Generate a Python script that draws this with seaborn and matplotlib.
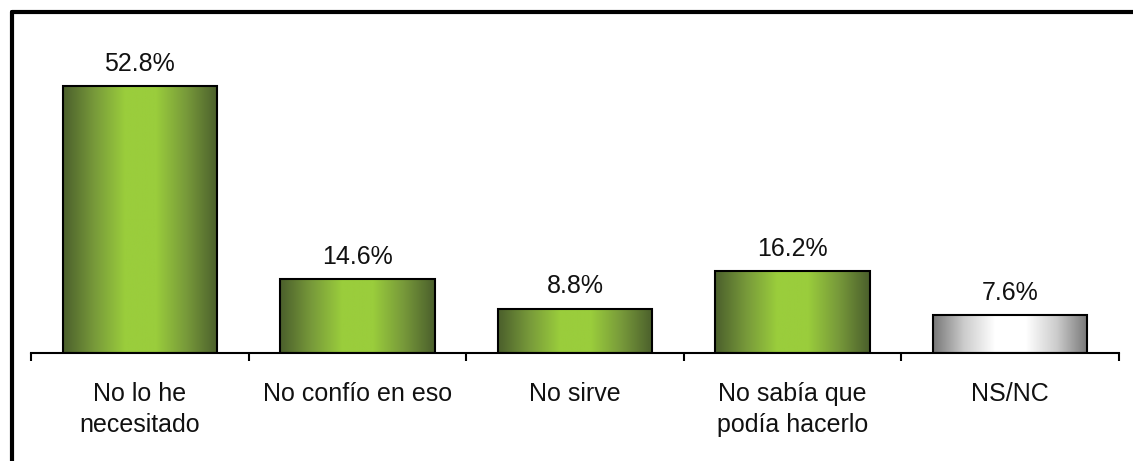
import numpy as np
import pandas as pd
import matplotlib
matplotlib.use("Agg")
import matplotlib.pyplot as plt
import seaborn as sns
from matplotlib.colors import LinearSegmentedColormap
from matplotlib.lines import Line2D

categories = ["No lo he\nnecesitado", "No confío en eso", "No sirve",
              "No sabía que\npodía hacerlo", "NS/NC"]
values = [52.8, 14.6, 8.8, 16.2, 7.6]
labels = ["52.8%", "14.6%", "8.8%", "16.2%", "7.6%"]

sns.set_theme(style="white")
plt.rcParams["font.family"] = ["Liberation Sans", "DejaVu Sans"]

df = pd.DataFrame({"cat": categories, "val": values})

fig = plt.figure(figsize=(11.33, 4.61), dpi=100)
ax = fig.add_axes([31 / 1133, 108 / 461, 1088 / 1133, 303 / 461])

sns.barplot(data=df, x="cat", y="val", ax=ax, color="#9acd3c",
            edgecolor="black", linewidth=1.5, width=0.71, saturation=1)

green = LinearSegmentedColormap.from_list(
    "g", ["#4b5f2c", "#77993a", "#9acd3c", "#9acd3c", "#77993a", "#4b5f2c"])
gray = LinearSegmentedColormap.from_list(
    "k", ["#777777", "#cccccc", "#ffffff", "#ffffff", "#cccccc", "#777777"])
grad = np.linspace(0, 1, 256).reshape(1, -1)

for i, p in enumerate(ax.patches):
    x0, y0 = p.get_x(), p.get_y()
    w, h = p.get_width(), p.get_height()
    cmap = gray if i == len(values) - 1 else green
    im = ax.imshow(grad, cmap=cmap, aspect="auto",
                   extent=(x0, x0 + w, y0, y0 + h), zorder=p.get_zorder() + 0.1)
    im.set_clip_path(p)
    p.set_facecolor("none")
    p.set_zorder(p.get_zorder() + 0.2)
    ax.text(x0 + w / 2, y0 + h + 2.0, labels[i], ha="center", va="bottom",
            fontsize=18, color="#111111")

ax.set_xlim(-0.5, len(values) - 0.5)
ax.set_ylim(0, 60)
ax.set_xlabel("")
ax.set_ylabel("")
ax.set_yticks([])
for s in ["top", "right", "left"]:
    ax.spines[s].set_visible(False)
ax.spines["bottom"].set_color("black")
ax.spines["bottom"].set_linewidth(1.5)

ax.set_xticks(np.arange(-0.5, len(values)), minor=True)
ax.tick_params(axis="x", which="minor", direction="out", length=6, width=1.5,
               color="black", bottom=True)
ax.tick_params(axis="x", which="major", length=0, pad=21, labelsize=18,
               labelcolor="#111111")
for t in ax.get_xticklabels():
    t.set_va("top")
    t.set_linespacing(1.38)

# outer frame: left and top edges
fig.add_artist(Line2D([12 / 1133, 12 / 1133], [0, 1 - 12 / 461],
                      transform=fig.transFigure, color="black", lw=3))
fig.add_artist(Line2D([12 / 1133, 1], [1 - 12 / 461, 1 - 12 / 461],
                      transform=fig.transFigure, color="black", lw=3))

fig.savefig("out.png", dpi=100, facecolor="white")
